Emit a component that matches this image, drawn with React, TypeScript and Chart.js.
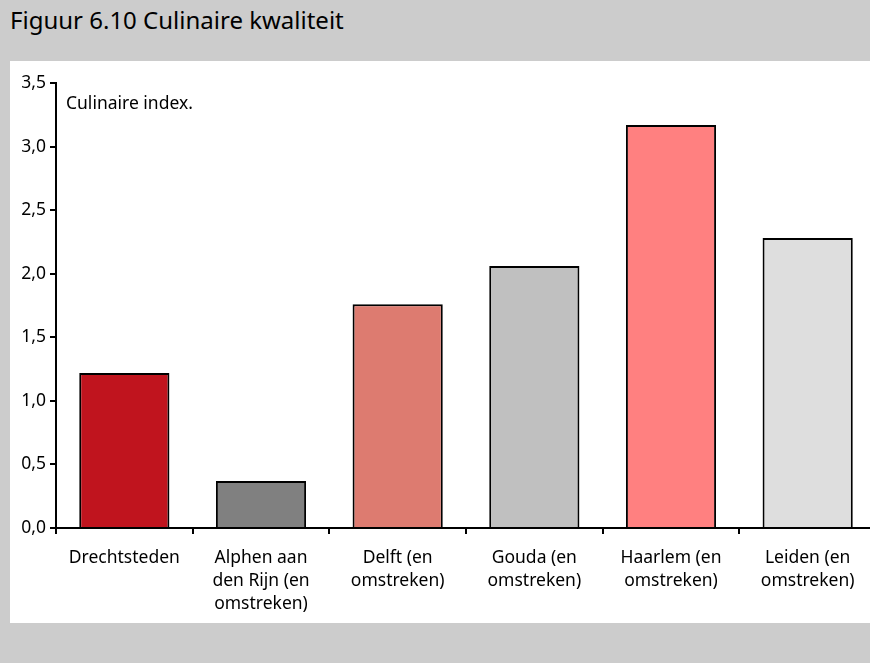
import React, { useEffect, useRef } from "react";
import { Chart, registerables } from "chart.js";

Chart.register(...registerables);

const categories: string[][] = [
  ["Drechtsteden"],
  ["Alphen aan", "den Rijn (en", "omstreken)"],
  ["Delft (en", "omstreken)"],
  ["Gouda (en", "omstreken)"],
  ["Haarlem (en", "omstreken)"],
  ["Leiden (en", "omstreken)"],
];
const values: number[] = [1.22, 0.37, 1.76, 2.06, 3.17, 2.28];
const barColors: string[] = ["#c0141e", "#808080", "#dd7b70", "#c0c0c0", "#ff8080", "#dedede"];
const title = "Figuur 6.10 Culinaire kwaliteit";
const unitLabel = "Culinaire index.";

const FONT = "'Noto Sans', 'Open Sans', sans-serif";

export default function App() {
  const ref = useRef<HTMLCanvasElement | null>(null);
  useEffect(() => {
    document.body.style.margin = "0";
    document.body.style.overflow = "hidden";
    const unitPlugin = {
      id: "unitText",
      afterDraw(chart: any) {
        const ctx = chart.ctx;
        ctx.save();
        ctx.fillStyle = "#000";
        ctx.font = `17.5px ${FONT}`;
        ctx.textBaseline = "middle";
        ctx.textAlign = "left";
        ctx.fillText(unitLabel, chart.chartArea.left + 10, chart.chartArea.top + 21);
        ctx.restore();
      },
    };
    const chart = new Chart(ref.current!, {
      type: "bar",
      data: {
        labels: categories,
        datasets: [
          {
            data: values,
            backgroundColor: barColors,
            borderColor: "#000",
            borderWidth: 2,
            categoryPercentage: 1,
            barPercentage: 0.66,
          },
        ],
      },
      options: {
        animation: false,
        responsive: false,
        maintainAspectRatio: false,
        layout: { padding: { top: 22, left: 0, right: 4, bottom: 0 } },
        plugins: { legend: { display: false }, tooltip: { enabled: false } },
        scales: {
          x: {
            afterFit: (s: any) => {
              s.height = 95;
            },
            grid: {
              drawOnChartArea: false,
              drawTicks: true,
              tickLength: 6,
              color: "#000",
              lineWidth: 2,
            },
            border: { color: "#000", width: 2 },
            ticks: {
              color: "#000",
              font: { family: FONT, size: 17.5, lineHeight: 1.3 },
              padding: 13,
              maxRotation: 0,
              autoSkip: false,
            },
          },
          y: {
            min: 0,
            max: 3.5,
            afterFit: (s: any) => {
              s.width = 46;
            },
            grid: {
              drawOnChartArea: false,
              drawTicks: true,
              tickLength: 6,
              color: "#000",
              lineWidth: 2,
            },
            border: { color: "#000", width: 2 },
            ticks: {
              stepSize: 0.5,
              color: "#000",
              font: { family: FONT, size: 17.5 },
              padding: 4,
              callback: (v: any) => Number(v).toFixed(1).replace(".", ","),
            },
          },
        },
      },
      plugins: [unitPlugin],
    });
    return () => chart.destroy();
  }, []);

  return (
    <div
      style={{
        position: "fixed",
        left: 0,
        top: 0,
        width: 870,
        height: 663,
        background: "#cccccc",
        overflow: "hidden",
        fontFamily: FONT,
      }}
    >
      <div
        style={{
          position: "absolute",
          left: 10,
          top: 5,
          fontSize: 24,
          color: "#000",
          lineHeight: "30px",
        }}
      >
        {title}
      </div>
      <div
        style={{
          position: "absolute",
          left: 10,
          top: 61,
          width: 870,
          height: 562,
          background: "#fff",
        }}
      >
        <canvas ref={ref} width={870} height={562} style={{ display: "block" }} />
      </div>
    </div>
  );
}
